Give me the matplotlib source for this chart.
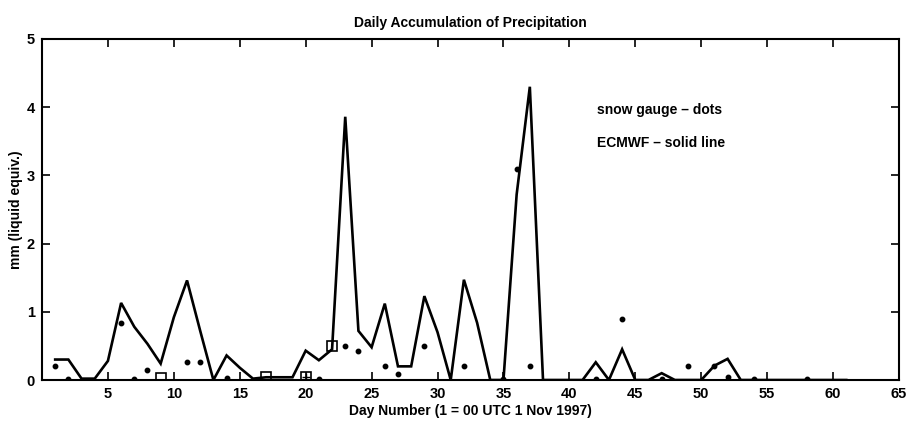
import matplotlib
matplotlib.use("Agg")
import matplotlib.pyplot as plt

plt.rcParams['font.family'] = ['Liberation Sans Narrow', 'Liberation Sans', 'DejaVu Sans']
plt.rcParams['font.weight'] = 'bold'

# ECMWF daily precipitation (days 1..61)
ecmwf_days = list(range(1, 62))
ecmwf_vals = [0.30, 0.30, 0.02, 0.02, 0.28, 1.13, 0.78, 0.53, 0.24, 0.92,
              1.46, 0.72, 0.00, 0.36, 0.18, 0.02, 0.04, 0.04, 0.04, 0.43,
              0.29, 0.45, 3.86, 0.72, 0.48, 1.12, 0.20, 0.20, 1.23, 0.70,
              0.00, 1.47, 0.84, 0.00, 0.00, 2.72, 4.30, 0.00, 0.00, 0.00,
              0.00, 0.26, 0.00, 0.45, 0.00, 0.00, 0.10, 0.00, 0.00, 0.00,
              0.21, 0.31, 0.00, 0.00, 0.00, 0.00, 0.00, 0.00, 0.00, 0.00,
              0.00]

# snow gauge dots
gauge_days = [1, 2, 6, 7, 8, 11, 12, 14, 21, 23, 24, 26, 27, 29, 32, 35, 36, 37,
              42, 44, 47, 49, 51, 52, 54, 58]
gauge_vals = [0.20, 0.01, 0.83, 0.01, 0.15, 0.27, 0.26, 0.03, 0.01, 0.50, 0.42,
              0.20, 0.09, 0.50, 0.20, 0.01, 3.10, 0.20, 0.01, 0.90, 0.01, 0.20,
              0.21, 0.04, 0.01, 0.02]

# open squares
box_days = [9, 17, 20, 22]
box_vals = [0.03, 0.05, 0.05, 0.50]

x_ticks = [5, 10, 15, 20, 25, 30, 35, 40, 45, 50, 55, 60, 65]
y_ticks = [0, 1, 2, 3, 4, 5]

fig = plt.figure(figsize=(9.10, 4.26), dpi=100)
ax = fig.add_axes([42 / 910, 1 - 380 / 426, (899 - 42) / 910, (380 - 39) / 426])

ax.plot(ecmwf_days, ecmwf_vals, color='black', lw=1.9, solid_joinstyle='miter')
ax.plot(gauge_days, gauge_vals, linestyle='none', marker='o', ms=3.2,
        color='black')
ax.plot(box_days, box_vals, linestyle='none', marker='s', ms=6.5,
        mfc='none', mec='black', mew=1.2)
ax.plot([20], [0.05], linestyle='none', marker='+', ms=6, color='black', mew=1.0)

ax.set_xlim(0, 65)
ax.set_ylim(0, 5)
ax.set_xticks(x_ticks)
ax.set_yticks(y_ticks)
ax.tick_params(direction='in', length=6, width=1.2, top=True, right=True,
               labelsize=10.5, pad=5)
for lab in ax.get_xticklabels() + ax.get_yticklabels():
    lab.set_fontweight('bold')
for s in ax.spines.values():
    s.set_linewidth(1.5)

ax.set_title('Daily Accumulation of Precipitation', fontsize=10,
             fontweight='bold', pad=9)
ax.set_xlabel('Day Number (1 = 00 UTC 1 Nov 1997)', fontsize=10,
              fontweight='bold', labelpad=2)
ax.set_ylabel('mm (liquid equiv.)', fontsize=10, fontweight='bold', labelpad=3)

ax.text(42.1, 3.96, 'snow gauge \u2013 dots', fontsize=10, fontweight='bold',
        ha='left', va='center')
ax.text(42.1, 3.47, 'ECMWF \u2013 solid line', fontsize=10, fontweight='bold',
        ha='left', va='center')

fig.savefig('out.png', dpi=100)
